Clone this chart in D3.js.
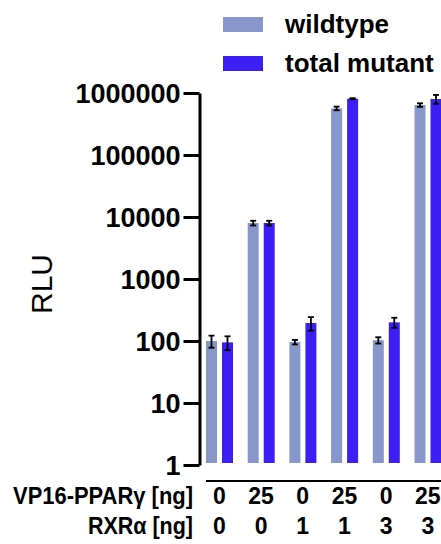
<!DOCTYPE html>
<html>
<head>
<meta charset="utf-8">
<script src="https://cdn.jsdelivr.net/npm/d3@7"></script>
<style>
  html, body { margin: 0; padding: 0; background: #fff; }
  svg { display: block; font-family: "Liberation Sans", Arial, Helvetica, sans-serif; }
</style>
</head>
<body>
<svg id="chart" width="441" height="544"></svg>
<script>
// ---- data ----
const groups = ["g1", "g2", "g3", "g4", "g5", "g6"];
const vp16Labels = ["0", "25", "0", "25", "0", "25"];
const rxrLabels = ["0", "0", "1", "1", "3", "3"];
const seriesNames = ["wildtype", "total mutant"];
const seriesColors = ["#8797CB", "#3D1EF5"];
const wildtypeMean = [100, 8000, 96, 565000, 103, 640000];
const wildtypeErr  = [22, 700, 8, 38000, 12, 42000];
const mutantMean   = [95, 8000, 195, 810000, 200, 800000];
const mutantErr    = [24, 700, 48, 15000, 37, 130000];
const yTicks = [1, 10, 100, 1000, 10000, 100000, 1000000];

const svg = d3.select("#chart");

const y = d3.scaleLog().domain([1, 1000000]).range([465, 93]);
const x0 = d3.scaleBand().domain(groups).range([198.5, 448.7]).paddingInner(0).paddingOuter(0);
const x1 = d3.scaleBand().domain(seriesNames).range([7.5, 34.5]).paddingInner(5 / 16).paddingOuter(0);

const rows = [];
groups.forEach((g, i) => {
  rows.push({ g, s: seriesNames[0], v: wildtypeMean[i], e: wildtypeErr[i], c: seriesColors[0] });
  rows.push({ g, s: seriesNames[1], v: mutantMean[i], e: mutantErr[i], c: seriesColors[1] });
});

// bars
svg.append("g").selectAll("rect").data(rows).join("rect")
  .attr("x", d => x0(d.g) + x1(d.s))
  .attr("width", x1.bandwidth())
  .attr("y", d => y(d.v))
  .attr("height", d => y(1) - 2 - y(d.v))
  .attr("fill", d => d.c);

// error bars
const eb = svg.append("g").attr("stroke", "#000").attr("stroke-width", 1.8);
rows.forEach(d => {
  const cx = x0(d.g) + x1(d.s) + x1.bandwidth() / 2;
  const yt = y(d.v + d.e), yb = y(d.v - d.e);
  eb.append("line").attr("x1", cx).attr("x2", cx).attr("y1", yt).attr("y2", yb);
  eb.append("line").attr("x1", cx - 3).attr("x2", cx + 3).attr("y1", yt).attr("y2", yt);
  eb.append("line").attr("x1", cx - 3).attr("x2", cx + 3).attr("y1", yb).attr("y2", yb);
});

// y axis
const yAxis = svg.append("g").attr("transform", "translate(199.5,0)")
  .call(d3.axisLeft(y).tickValues(yTicks).tickFormat(d3.format("d")).tickSize(16).tickSizeOuter(0).tickPadding(3));
yAxis.select(".domain").attr("stroke", "#000").attr("stroke-width", 3);
yAxis.selectAll(".tick line").attr("stroke", "#000").attr("stroke-width", 3);
yAxis.selectAll(".tick text").attr("fill", "#000").attr("font-size", 27).attr("font-weight", "bold")
  .attr("font-family", "'Liberation Sans', Arial, sans-serif").attr("dy", "0.36em");

// y label
svg.append("text").attr("transform", "translate(52,284) rotate(-90)")
  .attr("text-anchor", "middle").attr("font-size", 30).attr("fill", "#000").text("RLU");

// legend
const leg = svg.append("g");
seriesNames.forEach((s, i) => {
  leg.append("rect").attr("x", 223).attr("y", 17 + i * 39).attr("width", 40).attr("height", 15).attr("fill", seriesColors[i]);
  leg.append("text").attr("x", 285).attr("y", 33 + i * 39).attr("font-size", 26).attr("font-weight", "bold")
    .attr("fill", "#000").text(s);
});

// bottom table line
svg.append("line").attr("x1", 206).attr("x2", 441).attr("y1", 481).attr("y2", 481)
  .attr("stroke", "#000").attr("stroke-width", 2);

// row labels
svg.append("text").attr("x", 193).attr("y", 504).attr("text-anchor", "end").attr("font-size", 24)
  .attr("font-weight", "bold").attr("textLength", 180).attr("lengthAdjust", "spacingAndGlyphs").text("VP16-PPARγ [ng]");
svg.append("text").attr("x", 193).attr("y", 534).attr("text-anchor", "end").attr("font-size", 24)
  .attr("font-weight", "bold").attr("textLength", 105).attr("lengthAdjust", "spacingAndGlyphs").text("RXRα [ng]");

svg.append("g").selectAll("text").data(groups).join("text")
  .attr("x", g => x0(g) + x0.bandwidth() / 2).attr("y", 504).attr("text-anchor", "middle")
  .attr("font-size", 23).attr("font-weight", "bold").text((g, i) => vp16Labels[i]);
svg.append("g").selectAll("text").data(groups).join("text")
  .attr("x", g => x0(g) + x0.bandwidth() / 2).attr("y", 534).attr("text-anchor", "middle")
  .attr("font-size", 23).attr("font-weight", "bold").text((g, i) => rxrLabels[i]);
</script>
</body>
</html>
